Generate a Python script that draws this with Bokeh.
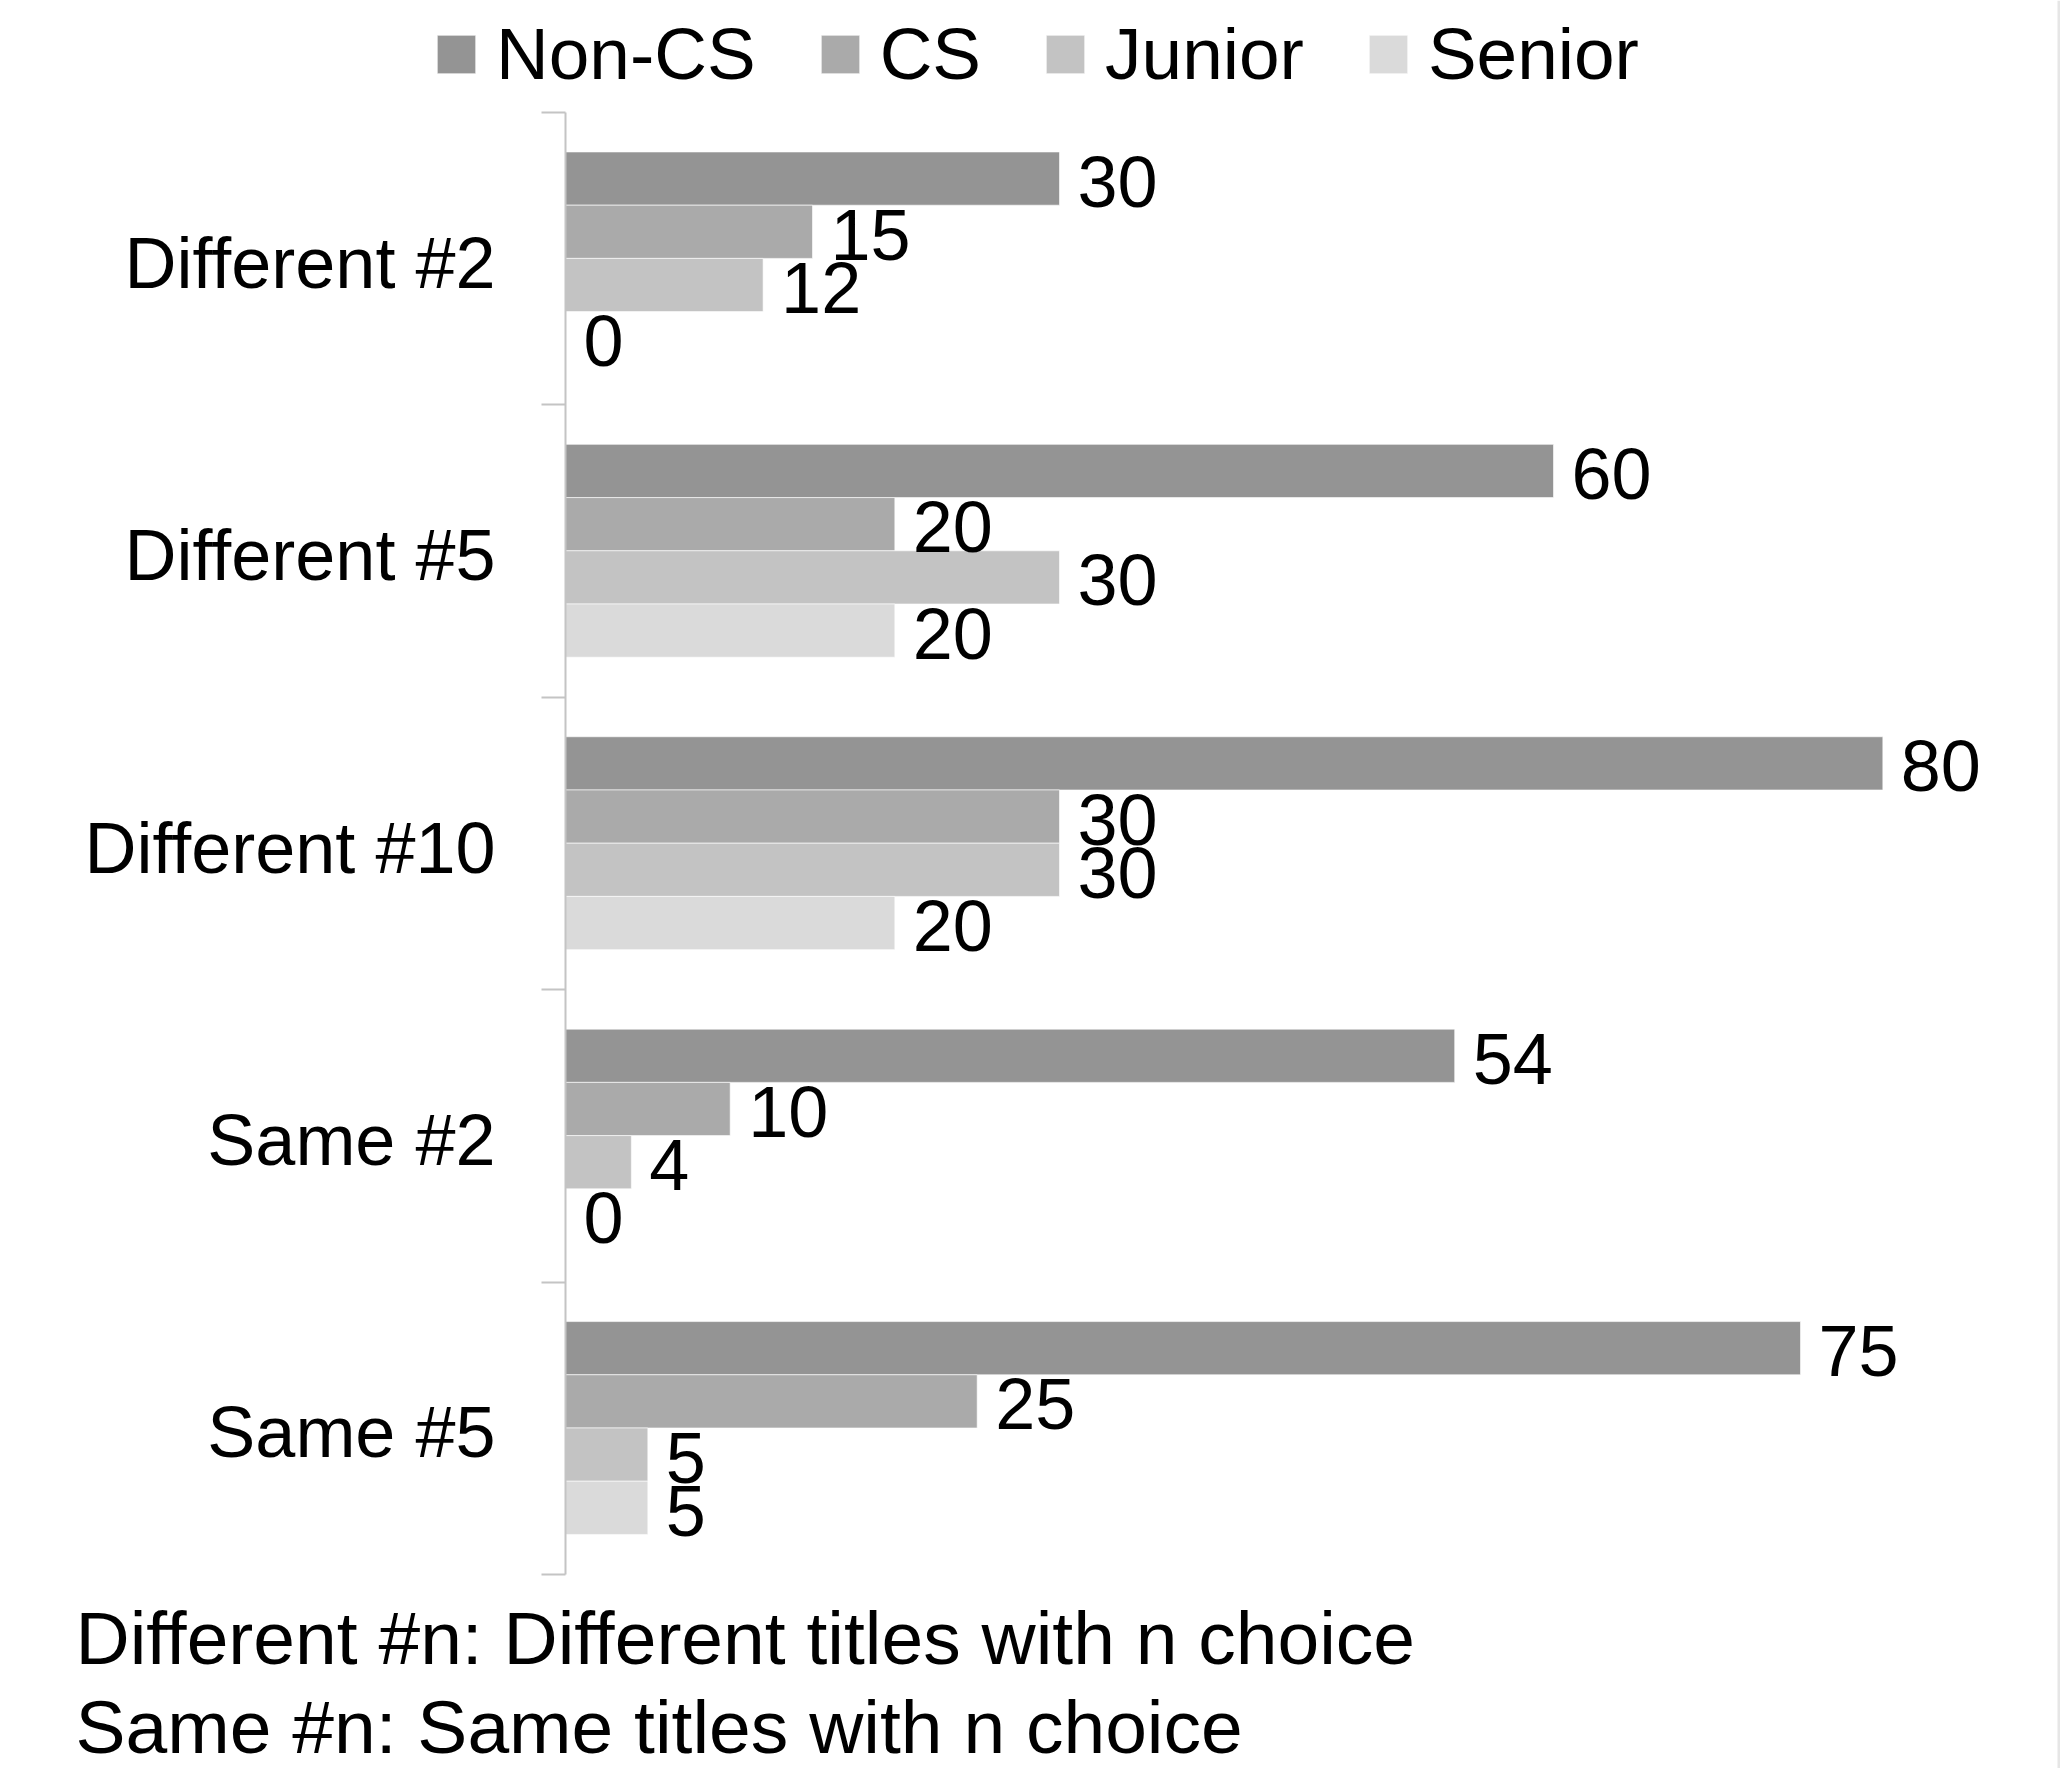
from bokeh.plotting import figure
from bokeh.models import (ColumnDataSource, Range1d, FixedTicker, Legend, LegendItem,
                          Label, LabelSet, BoxAnnotation)
from bokeh.core.properties import value
from bokeh.embed import file_html
from bokeh.resources import INLINE

categories = ["Different #2", "Different #5", "Different #10", "Same #2", "Same #5"]
series = ["Non-CS", "CS", "Junior", "Senior"]
non_cs = [30, 60, 80, 54, 75]
cs = [15, 20, 30, 10, 25]
junior = [12, 30, 30, 4, 5]
senior = [0, 20, 20, 0, 5]
values = [non_cs, cs, junior, senior]
colors = ["#949494", "#aaaaaa", "#c3c3c3", "#dadada"]
footnotes = ["Different #n: Different titles with n choice",
             "Same #n: Same titles with n choice"]

FONT = "Liberation Sans"
FS = "72px"
W, H = 2060, 1768

# frame covers the whole canvas; the value axis x=0 sits at 565 px,
# category band [0, 5] spans 112 px .. 1574 px from the top
p = figure(width=W, height=H, output_backend="svg", toolbar_location=None,
           x_range=Range1d(-34.312, 90.789), y_range=Range1d(5.6635, -0.3830),
           min_border_left=0, min_border_right=0, min_border_top=0, min_border_bottom=0)
p.outline_line_color = None
p.xgrid.visible = False
p.ygrid.visible = False
p.xaxis.visible = False

group_pad = 0.135
bar_h = 0.182
renderers = []
for j, (name, vals, col) in enumerate(zip(series, values, colors)):
    ys = [i + group_pad + bar_h * (j + 0.5) for i in range(len(categories))]
    src = ColumnDataSource(dict(y=ys, v=vals, t=[str(v) for v in vals]))
    r = p.hbar(y="y", left=0, right="v", height=bar_h, source=src,
               fill_color=col, line_color="white", line_width=0.6)
    renderers.append(r)
    p.add_layout(LabelSet(x="v", y="y", text="t", source=src, x_offset=18, y_offset=-3,
                          text_align="left", text_baseline="middle",
                          text_font=value(FONT), text_font_size=value(FS),
                          text_color="black"))

ax = p.yaxis[0]
ax.fixed_location = 0
ax.bounds = (0, len(categories))
label_pos = [i + 0.514 for i in range(len(categories))]
ax.ticker = FixedTicker(ticks=label_pos, minor_ticks=list(range(len(categories) + 1)))
ax.major_label_overrides = {t: c for t, c in zip(label_pos, categories)}
ax.major_tick_line_color = None
ax.major_tick_out = 0
ax.major_tick_in = 0
ax.minor_tick_line_color = "#c4c4c4"
ax.minor_tick_line_width = 2
ax.minor_tick_out = 24
ax.minor_tick_in = 0
ax.axis_line_color = "#c4c4c4"
ax.axis_line_width = 2
ax.major_label_standoff = 46
ax.major_label_text_font = FONT
ax.major_label_text_font_size = FS
ax.major_label_text_color = "black"

legend = Legend(items=[LegendItem(label=s, renderers=[r]) for s, r in zip(series, renderers)],
                orientation="horizontal", location=(432, 1673),
                glyph_width=48, glyph_height=48, label_standoff=16, spacing=60,
                padding=0, margin=0, border_line_color=None, background_fill_alpha=0,
                label_text_font=FONT, label_text_font_size="73px", label_text_color="black")
p.add_layout(legend, "center")

for k, t in enumerate(footnotes):
    p.add_layout(Label(x=75, y=[131, 42][k], x_units="screen", y_units="screen", text=t,
                       text_align="left", text_baseline="alphabetic",
                       text_font=FONT, text_font_size="75px", text_color="black"))

p.add_layout(BoxAnnotation(left=W - 3, right=W, left_units="screen", right_units="screen",
                           fill_color="#e6e6e6", fill_alpha=1, line_color=None))

open("out.html", "w").write(file_html(p, INLINE))
